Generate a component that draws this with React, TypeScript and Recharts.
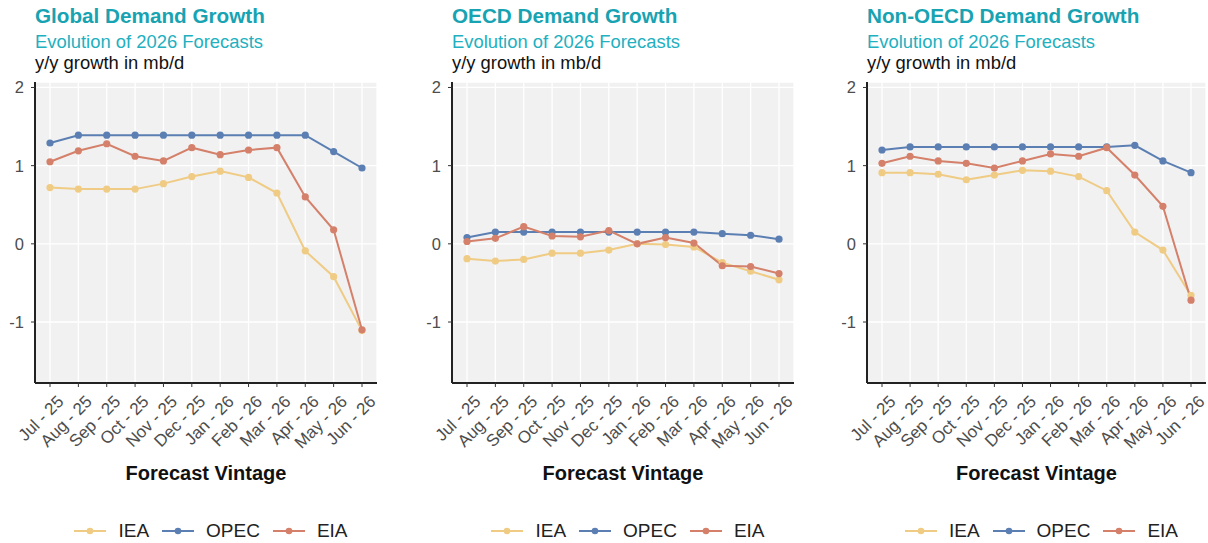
import { LineChart, Line, XAxis, YAxis, CartesianGrid, Legend } from "recharts";

const months = [
  "Jul - 25", "Aug - 25", "Sep - 25", "Oct - 25", "Nov - 25", "Dec - 25",
  "Jan - 26", "Feb - 26", "Mar - 26", "Apr - 26", "May - 26", "Jun - 26",
];

const globalIEA = [0.72, 0.7, 0.7, 0.7, 0.77, 0.86, 0.93, 0.85, 0.65, -0.09, -0.42, -1.11];
const globalOPEC = [1.29, 1.39, 1.39, 1.39, 1.39, 1.39, 1.39, 1.39, 1.39, 1.39, 1.18, 0.97];
const globalEIA = [1.05, 1.19, 1.28, 1.12, 1.06, 1.23, 1.14, 1.2, 1.23, 0.6, 0.18, -1.1];

const oecdIEA = [-0.19, -0.22, -0.2, -0.12, -0.12, -0.08, 0.0, -0.01, -0.04, -0.24, -0.35, -0.46];
const oecdOPEC = [0.08, 0.15, 0.15, 0.15, 0.15, 0.15, 0.15, 0.15, 0.15, 0.13, 0.11, 0.06];
const oecdEIA = [0.03, 0.07, 0.22, 0.1, 0.09, 0.17, 0.0, 0.08, 0.01, -0.28, -0.29, -0.38];

const nonOecdIEA = [0.91, 0.91, 0.89, 0.82, 0.88, 0.94, 0.93, 0.86, 0.68, 0.15, -0.08, -0.66];
const nonOecdOPEC = [1.2, 1.24, 1.24, 1.24, 1.24, 1.24, 1.24, 1.24, 1.24, 1.26, 1.06, 0.91];
const nonOecdEIA = [1.03, 1.12, 1.06, 1.03, 0.97, 1.06, 1.15, 1.12, 1.23, 0.88, 0.48, -0.72];

const yTicks = [-1, 0, 1, 2];

const series = [
  { key: "IEA", color: "#EFCB84" },
  { key: "OPEC", color: "#5B7FB3" },
  { key: "EIA", color: "#D4806A" },
];

const FONT = "'Liberation Sans', Arial, sans-serif";

function rows(iea: number[], opec: number[], eia: number[]) {
  return months.map((m, i) => ({ month: m, IEA: iea[i], OPEC: opec[i], EIA: eia[i] }));
}

const panels = [
  { title: "Global Demand Growth", left: 0, width: 378, data: rows(globalIEA, globalOPEC, globalEIA) },
  { title: "OECD Demand Growth", left: 417, width: 378, data: rows(oecdIEA, oecdOPEC, oecdEIA) },
  { title: "Non-OECD Demand Growth", left: 832, width: 375, data: rows(nonOecdIEA, nonOecdOPEC, nonOecdEIA) },
];

const MonthTick = (props: any) => {
  const { x, y, payload } = props;
  return (
    <g transform={`translate(${x + 6},${y + 5})`}>
      <text
        x={0}
        y={0}
        dy="0.72em"
        textAnchor="end"
        transform="rotate(-45)"
        fill="#4d4d4d"
        fontSize={17}
        fontFamily={FONT}
      >
        {payload.value}
      </text>
    </g>
  );
};

const LegendBox = () => (
  <div
    style={{
      height: 40,
      paddingTop: 15,
      boxSizing: "border-box",
      display: "flex",
      justifyContent: "center",
      paddingLeft: 58,
      fontFamily: FONT,
      fontSize: 19,
      color: "#222",
    }}
  >
    {series.map((s) => (
      <div key={s.key} style={{ display: "flex", alignItems: "center", marginRight: 13, height: 26 }}>
        <svg width={32} height={10} style={{ marginRight: 12 }}>
          <line x1={0} y1={5} x2={32} y2={5} stroke={s.color} strokeWidth={2} />
          <circle cx={16} cy={5} r={3.3} fill={s.color} />
        </svg>
        <span>{s.key}</span>
      </div>
    ))}
  </div>
);

function Panel({ data, width }: { data: any[]; width: number }) {
  return (
    <LineChart width={width} height={543} data={data} margin={{ top: 82, right: 1, bottom: 0, left: 0 }}>
      <CartesianGrid fill="#F1F1F1" stroke="#ffffff" strokeWidth={1.3} />
      <XAxis
        dataKey="month"
        interval={0}
        height={120}
        padding={{ left: 15, right: 15 }}
        tick={<MonthTick />}
        tickSize={4}
        tickLine={{ stroke: "#333", strokeWidth: 1 }}
        axisLine={{ stroke: "#222", strokeWidth: 2 }}
        label={{
          value: "Forecast Vintage",
          position: "insideBottom",
          offset: 23,
          fontSize: 20,
          fontWeight: "bold",
          fill: "#111",
          fontFamily: FONT,
        }}
      />
      <XAxis xAxisId="top" orientation="top" dataKey="month" height={0} tick={false} tickLine={false} axisLine={{ stroke: "#444", strokeWidth: 1.2 }} />
      <YAxis
        domain={[-1.78, 2.07]}
        ticks={yTicks}
        allowDataOverflow
        width={35}
        tickSize={4}
        tickMargin={7}
        tick={{ fill: "#4d4d4d", fontSize: 16.5, fontFamily: FONT }}
        tickLine={{ stroke: "#333", strokeWidth: 1 }}
        axisLine={{ stroke: "#222", strokeWidth: 2 }}
      />
      <YAxis yAxisId="right" orientation="right" width={0} tick={false} tickLine={false} axisLine={{ stroke: "#444", strokeWidth: 1.2 }} />
      <Legend verticalAlign="bottom" height={40} content={<LegendBox />} />
      {series.map((s) => (
        <Line
          key={s.key}
          dataKey={s.key}
          stroke={s.color}
          strokeWidth={2}
          dot={{ r: 3.6, fill: s.color, stroke: s.color, strokeWidth: 0 }}
          activeDot={false}
          isAnimationActive={false}
        />
      ))}
    </LineChart>
  );
}

export default function App() {
  return (
    <div style={{ position: "absolute", left: 0, top: 0, width: 1208, height: 543, background: "#fff", fontFamily: FONT }}>
      {panels.map((p) => (
        <div key={p.title} style={{ position: "absolute", left: p.left, top: 0, width: p.width, height: 543 }}>
          <Panel data={p.data} width={p.width} />
        </div>
      ))}
      <svg width={1208} height={80} style={{ position: "absolute", left: 0, top: 0, pointerEvents: "none" }}>
        {panels.map((p) => (
          <g key={p.title} fontFamily={FONT}>
            <text x={p.left + 35} y={22.5} fontSize={20.7} fontWeight="bold" fill="#17A3B2">
              {p.title}
            </text>
            <text x={p.left + 35} y={48} fontSize={18.4} fill="#22B0C0">
              Evolution of 2026 Forecasts
            </text>
            <text x={p.left + 35} y={69} fontSize={18.4} fill="#111">
              y/y growth in mb/d
            </text>
          </g>
        ))}
      </svg>
    </div>
  );
}
